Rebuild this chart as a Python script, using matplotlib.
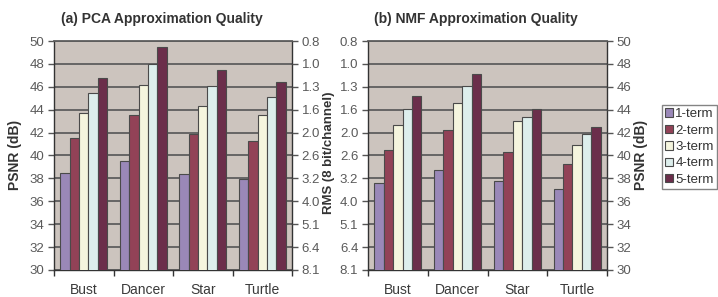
import numpy as np
import matplotlib
matplotlib.use('Agg')
import matplotlib.pyplot as plt
from matplotlib.patches import Patch

plt.rcParams['font.family'] = ['Liberation Sans', 'DejaVu Sans']

models = ['Bust', 'Dancer', 'Star', 'Turtle']
terms = ['1-term', '2-term', '3-term', '4-term', '5-term']
colors = ['#9a88b8', '#924257', '#f5f5de', '#ddeeec', '#6b2e4b']

# PSNR (dB)
pca_1 = [38.45, 39.55, 38.4, 37.95]
pca_2 = [41.5, 43.5, 41.9, 41.3]
pca_3 = [43.75, 46.15, 44.3, 43.55]
pca_4 = [45.45, 48.0, 46.1, 45.1]
pca_5 = [46.75, 49.5, 47.5, 46.4]

nmf_1 = [37.6, 38.7, 37.8, 37.05]
nmf_2 = [40.5, 42.2, 40.3, 39.3]
nmf_3 = [42.65, 44.55, 43.05, 40.95]
nmf_4 = [44.1, 46.1, 43.35, 41.9]
nmf_5 = [45.2, 47.1, 44.05, 42.5]

psnr_ticks = [30, 32, 34, 36, 38, 40, 42, 44, 46, 48, 50]
rms_labels = ['8.1', '6.4', '5.1', '4.0', '3.2', '2.6', '2.0', '1.6', '1.3', '1.0', '0.8']

W, H = 718, 297
fig = plt.figure(figsize=(W / 100, H / 100), dpi=100)
bg = '#ccc4be'
grid_c = '#5e5e5e'
tick_c = '#555555'
label_c = '#5a5a5a'
text_c = '#333333'


def panel(x0, x1, series, left_labels, right_labels):
    ax = fig.add_axes([x0 / W, (H - 270) / H, (x1 - x0) / W, 229 / H])
    ax.set_facecolor(bg)
    x = np.arange(len(models))
    bw = 0.158
    for i, vals in enumerate(series):
        ax.bar(x + (i - 2) * bw, vals, bw, color=colors[i], edgecolor='#4a4a4a',
               linewidth=0.8, zorder=3)
    ax.set_xlim(-0.5, len(models) - 0.5)
    ax.set_ylim(30, 50)
    ax.set_yticks(psnr_ticks)
    ax.set_yticklabels(left_labels)
    ax.yaxis.grid(True, color=grid_c, linewidth=1.3, zorder=1)
    ax.set_axisbelow(True)
    ax.set_xticks(np.arange(-0.5, len(models)), labels=[])
    ax.set_xticks(x, labels=models, minor=True)
    ax.tick_params(axis='x', which='major', length=4, width=1, color='#333333')
    ax.tick_params(axis='x', which='minor', length=0, pad=9, labelsize=10, labelcolor='#3a3a3a')
    ax.tick_params(axis='y', length=4, width=1, color=tick_c, labelsize=9.5, labelcolor=label_c, pad=3)
    for s in ax.spines.values():
        s.set_color('#333333')
        s.set_linewidth(1.0)
    ax.spines['top'].set_color(grid_c)
    ax.spines['top'].set_linewidth(1.3)
    axr = ax.twinx()
    axr.set_ylim(30, 50)
    axr.set_yticks(psnr_ticks)
    axr.set_yticklabels(right_labels)
    axr.tick_params(axis='y', length=4, width=1, color=tick_c, labelsize=9.5, labelcolor=label_c, pad=3)
    for s in axr.spines.values():
        s.set_visible(False)
    return ax, axr


axa, axa_r = panel(54, 292, [pca_1, pca_2, pca_3, pca_4, pca_5],
                   [str(t) for t in psnr_ticks], rms_labels)
axb, axb_r = panel(368, 607, [nmf_1, nmf_2, nmf_3, nmf_4, nmf_5],
                   rms_labels, [str(t) for t in psnr_ticks])

fig.text(162 / W, 1 - 19 / H, '(a) PCA Approximation Quality', ha='center', va='center',
         fontsize=10, fontweight='bold', color=text_c)
fig.text(476 / W, 1 - 19 / H, '(b) NMF Approximation Quality', ha='center', va='center',
         fontsize=10, fontweight='bold', color=text_c)

fig.text(15 / W, 1 - 155 / H, 'PSNR (dB)', rotation=90, ha='center', va='center',
         fontsize=10, fontweight='bold', color=text_c)
fig.text(329 / W, 1 - 153 / H, 'RMS (8 bit/channel)', rotation=90, ha='center', va='center',
         fontsize=9.5, fontweight='bold', color=text_c)
fig.text(641 / W, 1 - 155 / H, 'PSNR (dB)', rotation=90, ha='center', va='center',
         fontsize=10, fontweight='bold', color=text_c)

handles = [Patch(facecolor=c, edgecolor='#4a4a4a', linewidth=0.8, label=t)
           for c, t in zip(colors, terms)]
fig.legend(handles=handles, loc='upper left', bbox_to_anchor=(662 / W, 1 - 105 / H),
           frameon=True, fancybox=False, edgecolor='#666666', fontsize=9.5,
           handlelength=0.6, handleheight=0.6, handletextpad=0.15, borderpad=0.25,
           labelspacing=0.33, borderaxespad=0, labelcolor=text_c)

fig.savefig('out.png', dpi=100)
